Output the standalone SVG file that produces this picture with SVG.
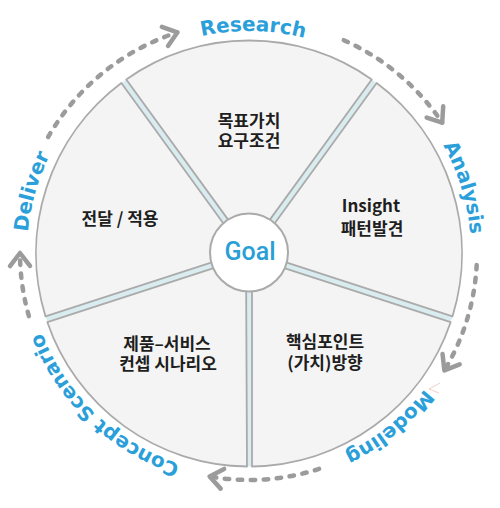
<svg xmlns="http://www.w3.org/2000/svg" width="500" height="508" viewBox="0 0 500 508">
  <style>
    .sector { fill: #f4f4f4; stroke: #aaaaaa; stroke-width: 1.8; stroke-linejoin: round; }
    .gap { stroke: #d9ecef; stroke-width: 5; }
    .ko { font-family: "Noto Sans CJK KR", "Noto Sans", sans-serif; font-size: 17px; font-weight: 600; fill: #1e1e1e; text-anchor: middle; }
    .phase { font-family: "DejaVu Sans", sans-serif; font-weight: bold; font-size: 20px; fill: #2b9fd9; text-anchor: middle; }
    .goal { font-family: Roboto, "Liberation Sans", sans-serif; font-weight: 500; font-size: 25px; fill: #2a9fd6; text-anchor: middle; }
    .dash { fill: none; stroke: #9b9b9b; stroke-width: 4.5; stroke-dasharray: 4.5 8.5; stroke-linecap: round; }
  </style>
  <defs>
    <path id="tp" d="M 249 475 A 222 222 0 1 1 249 31 A 222 222 0 1 1 249 475"/>
    <marker id="chev" markerUnits="userSpaceOnUse" viewBox="-20 -15 25 30" markerWidth="25" markerHeight="30" refX="0" refY="0" orient="auto" overflow="visible">
      <path d="M -13 -10 L 0 0 L -13 10" fill="none" stroke="#9b9b9b" stroke-width="4.5" stroke-linecap="round" stroke-linejoin="round"/>
    </marker>
  </defs>
  <rect width="500" height="508" fill="#ffffff"/>

  <g id="dividers">
    <line class="gap" x1="249" y1="253.5" x2="123.8" y2="81.2"/>
    <line class="gap" x1="249" y1="253.5" x2="374.2" y2="81.2"/>
    <line class="gap" x1="249" y1="253.5" x2="451.6" y2="319.3"/>
    <line class="gap" x1="249" y1="253.5" x2="249" y2="466.5"/>
    <line class="gap" x1="249" y1="253.5" x2="46.4" y2="319.3"/>
  </g>

  <g id="research">
    <path class="sector" d="M 249 248.4 L 126.25 79.43 A 213 213 0 0 1 371.75 79.43 Z"/>
    <text class="ko" x="249" y="126.5">목표가치<tspan x="249" dy="20.5">요구조건</tspan></text>
  </g>
  <g id="analysis">
    <path class="sector" d="M 253.85 251.92 L 376.65 82.99 A 213 213 0 0 1 452.48 316.44 Z"/>
    <text class="ko" x="371" y="211.5">Insight<tspan x="372" dy="23">패턴발견</tspan></text>
  </g>
  <g id="modeling">
    <path class="sector" d="M 252 257.63 L 450.63 322.17 A 213 213 0 0 1 252.01 466.48 Z"/>
    <text class="ko" x="325" y="348">핵심포인트<tspan x="325" dy="21">(가치)방향</tspan></text>
  </g>
  <g id="concept">
    <path class="sector" d="M 246 257.63 L 246.99 466.48 A 213 213 0 0 1 47.37 322.17 Z"/>
    <text class="ko" x="167" y="350">제품–서비스<tspan x="168" dy="20">컨셉 시나리오</tspan></text>
  </g>
  <g id="deliver">
    <path class="sector" d="M 244.15 251.92 L 45.52 316.44 A 213 213 0 0 1 121.35 82.99 Z"/>
    <text class="ko" x="120" y="225">전달 / 적용</text>
  </g>

  <g id="goal">
    <circle cx="249" cy="252.5" r="39" fill="#ffffff" stroke="#aaaaaa" stroke-width="2"/>
    <text class="goal" x="250" y="260">Goal</text>
  </g>

  <g id="phase-labels">
    <text class="phase"><textPath href="#tp" startOffset="50.3%">Research</textPath></text>
    <text class="phase"><textPath href="#tp" startOffset="70.3%">Analysis</textPath></text>
    <text class="phase"><textPath href="#tp" startOffset="89.2%">Modeling</textPath></text>
    <text class="phase"><textPath href="#tp" startOffset="12.1%">Concept Scenario</textPath></text>
    <text class="phase"><textPath href="#tp" startOffset="29.4%">Deliver</textPath></text>
  </g>

  <g id="connectors">
    <path class="dash" d="M 48.1 137 A 232 232 0 0 1 177.3 32.4" marker-end="url(#chev)"/>
    <path class="dash" d="M 343.8 40.2 A 233 233 0 0 1 442.2 122.7" marker-end="url(#chev)"/>
    <path class="dash" d="M 476.7 264.9 A 228 228 0 0 1 444.4 370.4" marker-end="url(#chev)"/>
    <path class="dash" d="M 319.1 468.9 A 227 227 0 0 1 209.6 476.5" marker-end="url(#chev)"/>
    <path class="dash" d="M 28.9 316.1 A 229 229 0 0 1 20 253" marker-end="url(#chev)"/>
  </g>

  <polyline points="440,383 429,389 439,393" fill="none" stroke="#f2cfc6" stroke-width="1"/>
</svg>
